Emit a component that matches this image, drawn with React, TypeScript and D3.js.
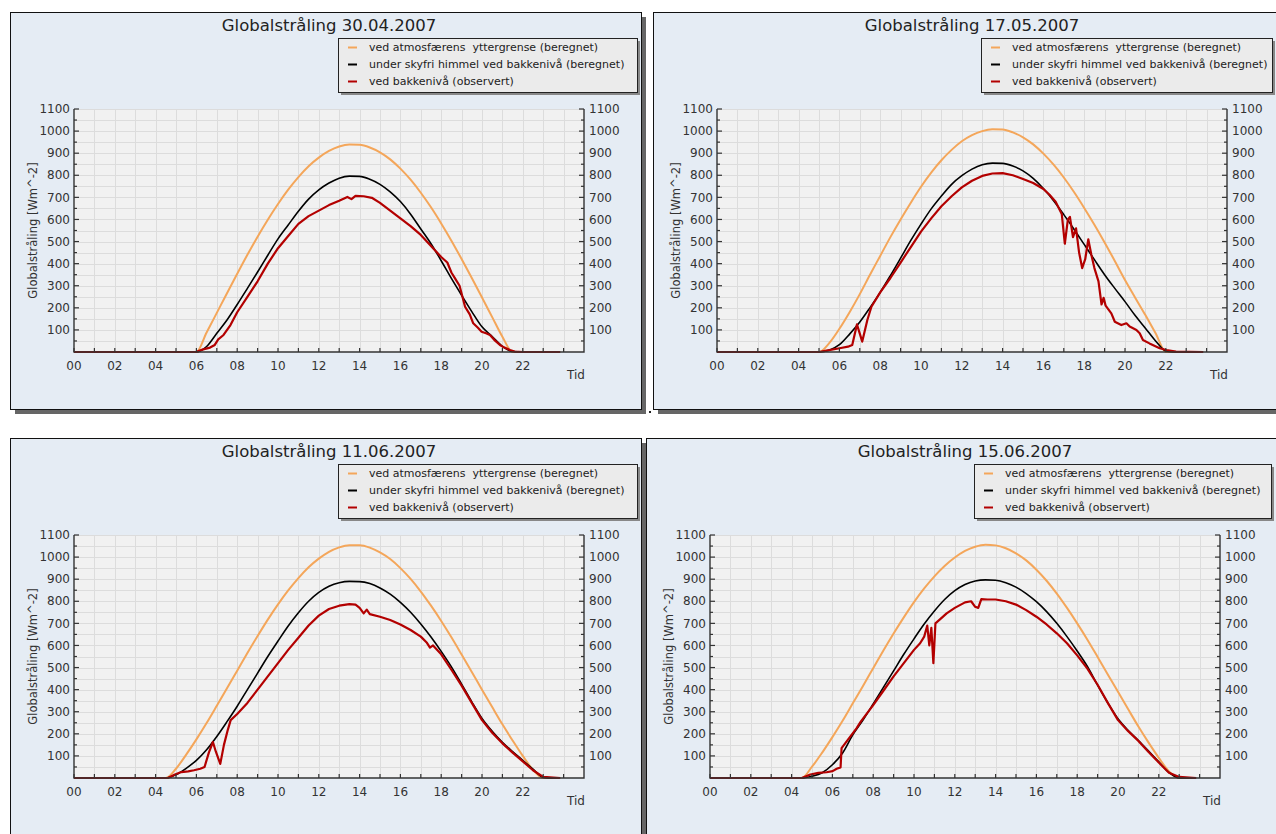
import React from 'react';
import * as d3 from 'd3';

// half-hour grid for the calculated curves
const HOURS = [0, 0.5, 1, 1.5, 2, 2.5, 3, 3.5, 4, 4.5, 5, 5.5, 6, 6.5, 7, 7.5, 8, 8.5, 9, 9.5, 10, 10.5, 11, 11.5,
  12, 12.5, 13, 13.5, 14, 14.5, 15, 15.5, 16, 16.5, 17, 17.5, 18, 18.5, 19, 19.5, 20, 20.5, 21, 21.5, 22, 22.5, 23, 23.5, 23.83];

const TITLES = ['Globalstråling 30.04.2007', 'Globalstråling 17.05.2007', 'Globalstråling 11.06.2007', 'Globalstråling 15.06.2007'];
const LEGEND_LABELS = [
  'ved atmosfærens  yttergrense (beregnet)',
  'under skyfri himmel ved bakkenivå (beregnet)',
  'ved bakkenivå (observert)',
];
const Y_TICK_LABELS = [100, 200, 300, 400, 500, 600, 700, 800, 900, 1000, 1100];
const X_TICK_LABELS = ['00', '02', '04', '06', '08', '10', '12', '14', '16', '18', '20', '22'];
const X_TITLE = 'Tid';
const Y_TITLE = 'Globalstråling [Wm^-2]';

// 30.04.2007
const top0430 = [0, 0, 0, 0, 0, 0, 0, 0, 0, 0, 0, 0,
  0, 88, 177, 266, 354, 440, 522, 599, 670, 735, 792, 841, 880, 910, 930, 939, 938, 926, 904, 872, 830, 780, 721, 655, 582, 504, 421, 335, 247, 158, 69,
  0, 0, 0, 0, 0, 0];
const clear0430 = [0, 0, 0, 0, 0, 0, 0, 0, 0, 0, 0, 0,
  0, 25, 85, 145, 215, 288, 362, 438, 512, 575, 637, 692, 734, 765, 787, 796, 795, 782, 759, 725, 681, 624, 557, 490, 413, 333, 257, 183, 114, 70, 25, 2,
  0, 0, 0, 0, 0];
const obs0430 = [[0, 0], [5.9, 0], [6.0, 1], [6.33, 12], [6.67, 20], [6.9, 32], [7.07, 57], [7.33, 77], [7.67, 122], [8.0, 180],
  [8.5, 250], [9.0, 320], [9.5, 400], [10, 470], [10.5, 525], [11, 580], [11.5, 615], [12, 640], [12.5, 665], [13, 685],
  [13.4, 702], [13.6, 692], [13.8, 707], [14.2, 705], [14.6, 698], [15, 675], [15.5, 640], [16, 605], [16.5, 570], [17, 530],
  [17.5, 480], [18, 430], [18.3, 405], [18.5, 360], [18.7, 330], [18.9, 300], [19.17, 205], [19.4, 170], [19.57, 130],
  [19.8, 110], [19.98, 92], [20.2, 85], [20.39, 77], [20.6, 55], [20.88, 32], [21.1, 20], [21.37, 9], [21.6, 2], [22, 0], [23.83, 0]];

// 17.05.2007
const top0517 = [0, 0, 0, 0, 0, 0, 0, 0, 0, 0,
  0, 40, 105, 180, 262, 350, 435, 520, 600, 676, 748, 812, 868, 915, 954, 982, 1000, 1008, 1007, 994, 972, 940, 898, 848, 790, 724, 652, 576, 496, 412, 326, 246, 167, 85,
  0, 0, 0, 0, 0];
const clear0517 = [0, 0, 0, 0, 0, 0, 0, 0, 0, 0,
  0, 8, 33, 81, 136, 201, 270, 346, 425, 505, 579, 648, 706, 759, 798, 828, 848, 855, 854, 842, 820, 786, 740, 685, 622, 556, 487, 418, 350, 288, 228, 165, 108, 50, 5,
  0, 0, 0, 0];
const obs0517 = [[0, 0], [5.0, 0], [5.36, 6], [6.01, 17], [6.42, 24], [6.63, 32], [6.86, 125], [7.12, 47], [7.37, 145], [7.57, 205],
  [8.0, 270], [8.5, 335], [9, 405], [9.5, 475], [10, 545], [10.5, 605], [11, 660], [11.5, 705], [12, 745], [12.5, 775], [13, 797],
  [13.5, 808], [14, 810], [14.5, 800], [15, 783], [15.5, 765], [16, 738], [16.3, 712], [16.6, 680], [16.9, 625], [17.05, 490],
  [17.2, 600], [17.3, 612], [17.45, 520], [17.6, 560], [17.75, 450], [17.9, 380], [18.05, 420], [18.2, 510], [18.35, 440],
  [18.5, 380], [18.7, 320], [18.85, 215], [18.95, 245], [19.05, 210], [19.33, 175], [19.5, 137], [19.82, 122], [20.07, 130],
  [20.23, 115], [20.56, 100], [20.72, 85], [20.88, 54], [21.2, 39], [21.7, 17], [22.03, 9], [22.5, 2], [23.83, 0]];

// 11.06.2007
const top0611 = [0, 0, 0, 0, 0, 0, 0, 0, 0,
  0, 42, 106, 175, 249, 327, 406, 486, 566, 643, 717, 786, 849, 905, 954, 993, 1024, 1044, 1054, 1054, 1043, 1021, 991, 950, 901, 844, 780, 711, 637, 559, 480, 400, 321, 243, 170, 100, 37, 0,
  0, 0];
const clear0611 = [0, 0, 0, 0, 0, 0, 0, 0, 0,
  0, 15, 44, 80, 128, 188, 255, 325, 400, 475, 550, 620, 688, 748, 800, 840, 868, 884, 890, 889, 880, 860, 832, 795, 750, 697, 638, 573, 503, 425, 345, 270, 212, 162, 120, 80, 40, 3,
  0, 0];
const obs0611 = [[0, 0], [4.6, 0], [4.95, 16], [5.26, 27], [5.6, 30], [5.88, 35], [6.19, 42], [6.4, 50], [6.61, 115], [6.81, 163],
  [6.95, 120], [7.17, 64], [7.35, 150], [7.54, 218], [7.68, 262], [8, 290], [8.5, 340], [9, 400], [9.5, 460], [10, 520],
  [10.5, 580], [11, 635], [11.5, 690], [12, 735], [12.5, 765], [13, 780], [13.5, 787], [13.8, 785], [14.0, 770], [14.2, 745],
  [14.35, 762], [14.5, 742], [15, 730], [15.5, 715], [16, 695], [16.5, 670], [17, 640], [17.3, 612], [17.45, 590], [17.6, 600],
  [18, 560], [18.5, 490], [19, 418], [19.5, 340], [20, 262], [20.5, 205], [21, 157], [21.5, 115], [22, 75], [22.5, 35], [23, 5], [23.83, 0]];

// 15.06.2007
const top0615 = [0, 0, 0, 0, 0, 0, 0, 0, 0,
  0, 51, 115, 185, 259, 338, 417, 497, 577, 654, 727, 796, 858, 913, 960, 998, 1028, 1047, 1056, 1053, 1040, 1017, 985, 943, 893, 835, 770, 700, 626, 548, 469, 390, 311, 233, 160, 91, 30, 0,
  0, 0];
const clear0615 = [0, 0, 0, 0, 0, 0, 0, 0, 0,
  0, 8, 24, 60, 113, 195, 262, 335, 410, 485, 560, 630, 697, 756, 808, 848, 876, 892, 897, 895, 884, 864, 835, 798, 753, 700, 640, 575, 505, 420, 340, 268, 215, 170, 122, 73, 25, 0,
  0, 0];
const obs0615 = [[0, 0], [4.5, 0], [4.92, 16], [5.31, 23], [5.71, 26], [6.01, 31], [6.21, 42], [6.4, 48], [6.45, 135], [6.69, 165],
  [7.18, 225], [7.39, 255], [8, 330], [8.5, 395], [9, 460], [9.5, 520], [10, 580], [10.3, 610], [10.5, 640], [10.65, 690],
  [10.75, 600], [10.85, 680], [10.95, 520], [11.05, 700], [11.3, 720], [11.6, 745], [12, 770], [12.5, 795], [12.8, 800],
  [13, 775], [13.15, 770], [13.3, 810], [13.6, 808], [14, 808], [14.5, 800], [15, 785], [15.5, 760], [16, 730], [16.5, 695],
  [17, 655], [17.5, 610], [18, 555], [18.5, 495], [19, 422], [19.5, 340], [20, 262], [20.5, 212], [21, 168], [21.5, 118],
  [22, 70], [22.5, 24], [23, 5], [23.83, 0]];

const COLORS = { top: '#f4a65a', clear: '#000000', obs: '#b30000' };
const FONT = '"DejaVu Sans", Verdana, sans-serif';

const FRAME_W = 631;
const FRAME_H = 397;
const PW = 510;
const PH = 243;

const panels = [
  { x: 10, y: 12, w: FRAME_W, legendW: 299, title: TITLES[0], top: top0430, clear: clear0430, obs: obs0430 },
  { x: 653, y: 12, w: 640, legendW: 291, title: TITLES[1], top: top0517, clear: clear0517, obs: obs0517 },
  { x: 10, y: 438, w: FRAME_W, legendW: 299, title: TITLES[2], top: top0611, clear: clear0611, obs: obs0611 },
  { x: 646, y: 438, w: 640, legendW: 297, title: TITLES[3], top: top0615, clear: clear0615, obs: obs0615 },
];

function Panel({ p }) {
  const x = d3.scaleLinear().domain([0, 25]).range([0, PW]);
  const y = d3.scaleLinear().domain([0, 1100]).range([PH, 0]);

  const smooth = d3.line<number>()
    .x((_, i) => x(HOURS[i]))
    .y(d => y(d))
    .curve(d3.curveMonotoneX);
  const jagged = d3.line<number[]>()
    .x(d => x(d[0]))
    .y(d => y(d[1]));

  const hourTicks = d3.range(0, 25, 1);
  const yGrid = d3.range(50, 1101, 50);
  const lx = p.x + 328;
  const ly = p.y + 26;
  const legendColors = [COLORS.top, COLORS.clear, COLORS.obs];

  return (
    <g>
      {/* frame + shadow */}
      <rect x={p.x + 5} y={p.y + 5} width={p.w} height={FRAME_H} fill="#666" />
      <rect x={p.x + 0.5} y={p.y + 0.5} width={p.w} height={FRAME_H} fill="#e5ecf4" stroke="#111" strokeWidth={1} />

      <text x={p.x + 319} y={p.y + 19} textAnchor="middle" fontSize={16.5} fill="#222" fontFamily={FONT}>{p.title}</text>

      <g transform={`translate(${p.x + 64},${p.y + 97})`}>
        <rect x={0} y={0} width={PW} height={PH} fill="#f1f1f1" />
        {hourTicks.slice(1).map(h => (
          <line key={'vg' + h} x1={Math.round(x(h)) + 0.5} x2={Math.round(x(h)) + 0.5} y1={0} y2={PH} stroke="#dcdcdc" strokeWidth={1} />
        ))}
        {yGrid.map(v => (
          <line key={'hg' + v} x1={0} x2={PW} y1={Math.round(y(v)) + 0.5} y2={Math.round(y(v)) + 0.5} stroke="#dcdcdc" strokeWidth={1} />
        ))}

        <path d={smooth(p.top) || ''} fill="none" stroke={COLORS.top} strokeWidth={2} />
        <path d={smooth(p.clear) || ''} fill="none" stroke={COLORS.clear} strokeWidth={1.6} />
        <path d={jagged(p.obs) || ''} fill="none" stroke={COLORS.obs} strokeWidth={2.2} strokeLinejoin="round" />

        {/* axes */}
        <path d={`M0,0V${PH}H${PW}V0`} fill="none" stroke="#333" strokeWidth={1.4} />
        {hourTicks.map(h => (
          <line key={'xt' + h} x1={x(h)} x2={x(h)} y1={PH} y2={PH - 4} stroke="#333" strokeWidth={1.2} />
        ))}
        {yGrid.map(v => {
          const len = v % 100 === 0 ? 5 : 3;
          return (
            <g key={'yt' + v}>
              <line x1={0} x2={len} y1={y(v)} y2={y(v)} stroke="#333" strokeWidth={1.2} />
              <line x1={PW} x2={PW - len} y1={y(v)} y2={y(v)} stroke="#333" strokeWidth={1.2} />
            </g>
          );
        })}

        {Y_TICK_LABELS.map(v => (
          <g key={'yl' + v} fontSize={12} fill="#333" fontFamily={FONT}>
            <text x={-4} y={y(v)} dy="0.35em" textAnchor="end">{v}</text>
            <text x={PW + 5} y={y(v)} dy="0.35em" textAnchor="start">{v}</text>
          </g>
        ))}
        {X_TICK_LABELS.map((t, i) => (
          <text key={'xl' + t} x={x(i * 2)} y={PH + 18} textAnchor="middle" fontSize={12} fill="#333" fontFamily={FONT}>{t}</text>
        ))}
        <text x={PW + 1} y={PH + 27} textAnchor="end" fontSize={12} fill="#333" fontFamily={FONT}>{X_TITLE}</text>
        <text transform={`translate(-41,${PH / 2}) rotate(-90)`} dy="0.35em" textAnchor="middle" fontSize={11.5} fill="#333" fontFamily={FONT}>{Y_TITLE}</text>
      </g>

      {/* legend */}
      <rect x={lx + 3} y={ly + 3} width={p.legendW} height={54} fill="#888" />
      <rect x={lx + 0.5} y={ly + 0.5} width={p.legendW} height={54} fill="#ebebeb" stroke="#222" strokeWidth={1} />
      {LEGEND_LABELS.map((label, i) => (
        <g key={'lg' + i}>
          <line x1={lx + 10} x2={lx + 19} y1={ly + 9.5 + i * 17} y2={ly + 9.5 + i * 17} stroke={legendColors[i]} strokeWidth={2} />
          <text x={lx + 31} y={ly + 13 + i * 17} fontSize={11} fill="#222" fontFamily={FONT} style={{ whiteSpace: 'pre' }}>{label}</text>
        </g>
      ))}
    </g>
  );
}

export default function App() {
  return (
    <div style={{ position: 'absolute', left: 0, top: 0, width: 1276, height: 834, overflow: 'hidden', background: '#fff' }}>
      <svg width={1276} height={834} style={{ display: 'block' }}>
        <rect width={1276} height={834} fill="#fff" />
        {panels.map((p, i) => <Panel key={i} p={p} />)}
        <rect x={649} y={411} width={2} height={2} fill="#222" />
      </svg>
    </div>
  );
}
